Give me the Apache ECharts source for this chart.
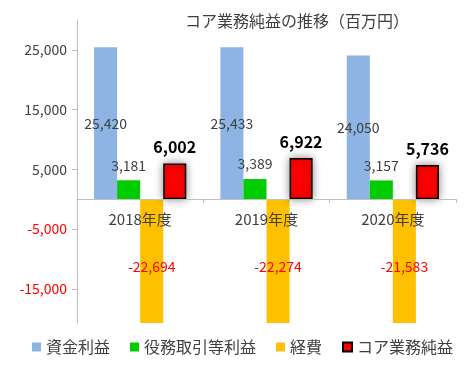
<!DOCTYPE html>
<html><head><meta charset="utf-8">
<script src="https://cdn.jsdelivr.net/npm/echarts@6/dist/echarts.min.js"></script>
<style>html,body{margin:0;padding:0;background:#fff}#c{width:467px;height:367px}</style>
</head><body><div id="c"></div>
<script>
const categories = ['2018年度', '2019年度', '2020年度'];
const fundProfit = [25420, 25433, 24050];
const feeProfit = [3181, 3389, 3157];
const expenses = [-22694, -22274, -21583];
const coreProfit = [6002, 6922, 5736];
const yTicks = [-15000, -5000, 5000, 15000, 25000];
const seriesNames = ['資金利益', '役務取引等利益', '経費', 'コア業務純益'];

const FONT = '"Noto Sans CJK JP", sans-serif';
const TXT = '#404040';
const fmt = v => v.toLocaleString('en-US');

const chart = echarts.init(document.getElementById('c'));
chart.setOption({
  animation: false,
  title: {
    text: 'コア業務純益の推移（百万円）', left: 180, top: 8,
    textStyle: { fontFamily: FONT, fontSize: 16, fontWeight: 'normal', color: TXT }
  },
  grid: { left: 77, right: 11, top: 20, bottom: 44, containLabel: false },
  legend: {
    left: 32, top: 339, width: 435, padding: 0, icon: 'rect', itemWidth: 9, itemHeight: 9, itemGap: 20,
    textStyle: { fontFamily: FONT, fontSize: 16, color: TXT },
    data: seriesNames
  },
  xAxis: {
    type: 'category', data: categories, offset: -124, z: 5,
    axisLine: { onZero: false, lineStyle: { color: '#bfbfbf' } },
    axisTick: { show: true, length: 4, lineStyle: { color: '#bfbfbf' } },
    axisLabel: { fontFamily: FONT, fontSize: 15, color: TXT, margin: 13 }
  },
  yAxis: {
    type: 'value', min: -20700, max: 30000,
    splitLine: { show: false },
    axisLine: { show: true, lineStyle: { color: '#bfbfbf' } },
    axisTick: { show: true, length: 5, customValues: yTicks, lineStyle: { color: '#bfbfbf' } },
    axisLabel: {
      customValues: yTicks, fontFamily: FONT, fontSize: 14, margin: 10,
      formatter: v => fmt(v),
      color: v => (v < 0 ? '#ff0000' : TXT)
    }
  },
  series: [
    {
      name: seriesNames[0], type: 'bar', data: fundProfit, barGap: 0, barCategoryGap: '27%',
      itemStyle: { color: '#8db4e2' },
      label: { show: true, position: 'inside', formatter: p => fmt(p.value), fontFamily: FONT, fontSize: 14, color: TXT }
    },
    {
      name: seriesNames[1], type: 'bar', data: feeProfit,
      itemStyle: { color: '#00cc00' },
      label: { show: true, position: 'top', distance: 8, formatter: p => fmt(p.value), fontFamily: FONT, fontSize: 14, color: TXT }
    },
    {
      name: seriesNames[2], type: 'bar', data: expenses,
      itemStyle: { color: '#ffc000' },
      label: { show: true, position: 'inside', offset: [0, 6], formatter: p => fmt(p.value), fontFamily: FONT, fontSize: 14, color: '#ff0000' }
    },
    {
      name: seriesNames[3], type: 'bar', data: coreProfit,
      itemStyle: { color: '#ff0000', borderColor: '#000', borderWidth: 1.5, shadowBlur: 9, shadowColor: 'rgba(0,0,0,0.45)' },
      label: { show: true, position: 'top', distance: 8, formatter: p => fmt(p.value), fontFamily: FONT, fontSize: 16, fontWeight: 'bold', color: '#000' }
    }
  ]
});
</script></body></html>
